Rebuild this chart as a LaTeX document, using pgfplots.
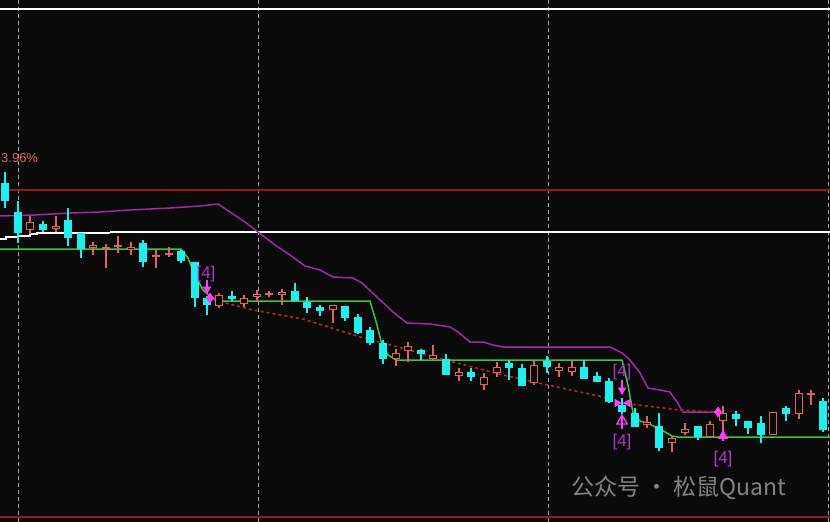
\documentclass[border=0pt]{standalone}
\usepackage{pgfplots}
\pgfplotsset{compat=1.18}
\usepackage{pgfplotstable}
\usepackage{fontspec}
\setmainfont{Liberation Sans}
\newfontfamily\cjk{Noto Sans CJK SC}

\definecolor{bg}{HTML}{0A0A0A}
\definecolor{cy}{HTML}{1EF0F0}
\definecolor{rd}{HTML}{E0645C}
\definecolor{gr}{HTML}{3AC83A}
\definecolor{pu}{HTML}{A626B0}
\definecolor{mg}{HTML}{FF3CFF}
\definecolor{lbl}{HTML}{A83AC8}
\definecolor{dred}{HTML}{8E1C1C}
\definecolor{dsh}{HTML}{B42828}

% candles in screen units: x, high, low, body top, body bottom
\pgfplotstableread{
x   hi  lo  t   b
5   172 208 183 201
18  201 243 212 233
43  221 232 224 230
68  208 246 220 238
81  233 258 233 249
143 240 267 243 262
181 250 263 251 261
195 262 307 262 298
207 296 315 298 305
232 291 301 296 299
295 283 301 291 301
307 297 313 302 308
320 305 316 307 311
345 306 321 306 318
358 314 334 317 333
370 327 345 330 343
383 340 364 343 359
421 349 360 350 354
446 354 375 359 375
471 368 381 372 377
509 360 380 363 368
522 364 386 368 386
547 356 373 361 367
584 360 379 367 379
597 372 382 376 382
609 378 403 381 402
622 398 414 405 412
635 408 427 413 427
659 413 451 426 448
698 426 440 426 437
736 411 426 414 419
748 421 434 421 428
761 416 443 423 435
786 406 421 408 414
823 398 432 401 430
}\cyantab

\pgfplotstableread{
x   hi  lo  t   b
30  216 234 222 230
56  216 232 226 229
93  242 255 245 248
106 244 268 247 249
118 236 253 245 247
131 242 255 247 250
156 250 268 255 257
169 247 257 253 255
219 293 308 295 306
244 295 307 298 304
257 290 302 294 297
269 291 297 293 295
282 289 305 292 295
333 305 323 305 310
396 349 366 353 359
408 342 362 346 351
433 345 360 355 359
459 368 381 372 376
484 373 390 377 385
497 362 377 367 373
534 361 385 365 383
559 363 377 367 371
572 361 376 367 372
647 416 428 422 425
672 436 452 438 443
685 423 435 429 433
710 421 437 424 437
723 406 430 413 421
773 412 435 412 435
799 390 419 393 414
811 390 405 393 395
}\redtab

\begin{document}
\begin{tikzpicture}
\begin{axis}[
  scale only axis, width=830pt, height=522pt,
  xmin=0, xmax=830, ymin=0, ymax=522, y dir=reverse,
  axis line style={draw=none},
  axis background/.style={fill=bg},
  xtick={18,258,548,828}, xticklabels={}, ytick=\empty,
  major tick length=0pt,
  xmajorgrids, grid style={draw=gray!70, line width=0.8pt, dash pattern=on 4pt off 3pt},
]
% reference levels
\addplot[white, line width=1.3pt] coordinates {(0,9)(830,9)};
\addplot[dred, line width=1.3pt] coordinates {(0,190)(830,190)};
\addplot[dred!90!red, line width=2.5pt] coordinates {(0,517)(830,517)};
\addplot[white, line width=1.1pt] coordinates {(0,239)(6,239)(6,237)(18,237)(18,236)(30,236)(30,234)(37,234)(37,233)(110,233)};
\addplot[white, line width=2.6pt] coordinates {(110,232)(830,232)};

% purple line
\addplot[pu, line width=1.5pt] coordinates {(0,216)(35,215)(70,213)(100,212)(130,210)(170,208)(200,206)(218,204)(230,212)(245,222)(258,232)(275,245)(290,255)(305,266)(320,270)(333,277)(353,278)(362,283)(377,297)(393,312)(407,323)(430,324)(437,325)(450,327)(458,332)(470,342)(483,342)(493,345)(503,347)(610,347)(622,353)(630,360)(640,373)(648,388)(660,390)(670,392)(677,402)(683,412)(720,412)};

% green line
\addplot[gr, line width=1.5pt] coordinates {(0,249)(181,249)(188,258)(195,275)(203,290)(212,298)(218,301)(370,301)(377,325)(382,345)(388,355)(396,360)(622,360)(628,385)(633,413)(640,421)(647,423)(660,429)(672,436)(678,437)(830,437)};

% red dashed line
\addplot[dsh, line width=1.6pt, dash pattern=on 3pt off 3pt] coordinates {(214,300)(253,310)(303,319)(357,336)(383,343)(457,363)(503,375)(557,387)(603,397)(622,403)(680,410)(717,412)};

% cyan candles: wick then body
\addplot[draw=none, mark=none, forget plot, error bars/.cd, y dir=plus, y explicit, error mark=none,
  error bar style={draw=cy, line width=1.3pt}]
  table[x=x, y=hi, y error plus expr={\thisrow{lo}-\thisrow{hi}}] {\cyantab};
\addplot[draw=none, mark=none, forget plot, error bars/.cd, y dir=plus, y explicit, error mark=none,
  error bar style={draw=cy, line width=8pt}]
  table[x=x, y=t, y error plus expr={\thisrow{b}-\thisrow{t}}] {\cyantab};

% red hollow candles: wick, outline, inner
\addplot[draw=none, mark=none, forget plot, error bars/.cd, y dir=plus, y explicit, error mark=none,
  error bar style={draw=rd, line width=1.3pt}]
  table[x=x, y=hi, y error plus expr={\thisrow{lo}-\thisrow{hi}}] {\redtab};
\addplot[draw=none, mark=none, forget plot, error bars/.cd, y dir=plus, y explicit, error mark=none,
  error bar style={draw=rd, line width=8pt}]
  table[x=x, y=t, y error plus expr={\thisrow{b}-\thisrow{t}}] {\redtab};
\addplot[draw=none, mark=none, forget plot, error bars/.cd, y dir=plus, y explicit, error mark=none,
  error bar style={draw=bg, line width=5.4pt}]
  table[x=x, y expr={\thisrow{t}+1.3}, y error plus expr={max(\thisrow{b}-\thisrow{t}-2.6,0)}] {\redtab};

% signal markers
\addplot[only marks, mark=diamond*, mark size=5pt, mg] coordinates {(210,298)(718,412)};
\addplot[only marks, mark=triangle*, mark size=4.5pt, mark options={rotate=-90}, mg] coordinates {(617,403)};
\addplot[only marks, mark=triangle*, mark size=4.5pt, mark options={rotate=90}, mg] coordinates {(628,403)};
\addplot[mg, line width=1.2pt] coordinates {(207,280)(207,288)};
\addplot[only marks, mark=triangle*, mark size=4.5pt, mark options={rotate=180}, mg] coordinates {(207,289)};
\addplot[mg, line width=1.2pt] coordinates {(622,380)(622,389)};
\addplot[only marks, mark=triangle*, mark size=4.5pt, mark options={rotate=180}, mg] coordinates {(622,390)};
\addplot[mg, line width=1.2pt] coordinates {(622,415)(622,429)};
\addplot[only marks, mark=triangle, mark size=6pt, mark options={line width=1.3pt}, mg] coordinates {(622,421)};
\addplot[mg, line width=1.2pt] coordinates {(723,428)(723,441)};
\addplot[only marks, mark=triangle*, mark size=5.5pt, mg] coordinates {(723,436)};

\node[lbl, font=\fontsize{17}{17}\selectfont] at (axis cs:206,274) {[4]};
\node[lbl, font=\fontsize{17}{17}\selectfont] at (axis cs:622,372) {[4]};
\node[lbl, font=\fontsize{17}{17}\selectfont] at (axis cs:622,442) {[4]};
\node[lbl, font=\fontsize{17}{17}\selectfont] at (axis cs:723,459) {[4]};
\node[rd, anchor=west, inner sep=1pt, font=\fontsize{13}{13}\selectfont] at (axis cs:0,158) {3.96\%};
\node[gray!80, opacity=0.85, anchor=west, font=\cjk\fontsize{23}{23}\selectfont] at (axis cs:568,488) {公众号 · 松鼠Quant};
\coordinate (SW) at (rel axis cs:0,0);
\coordinate (NE) at (rel axis cs:1,1);
\end{axis}
\pgfresetboundingbox
\path[use as bounding box] (SW) rectangle (NE);
\end{tikzpicture}
\end{document}
